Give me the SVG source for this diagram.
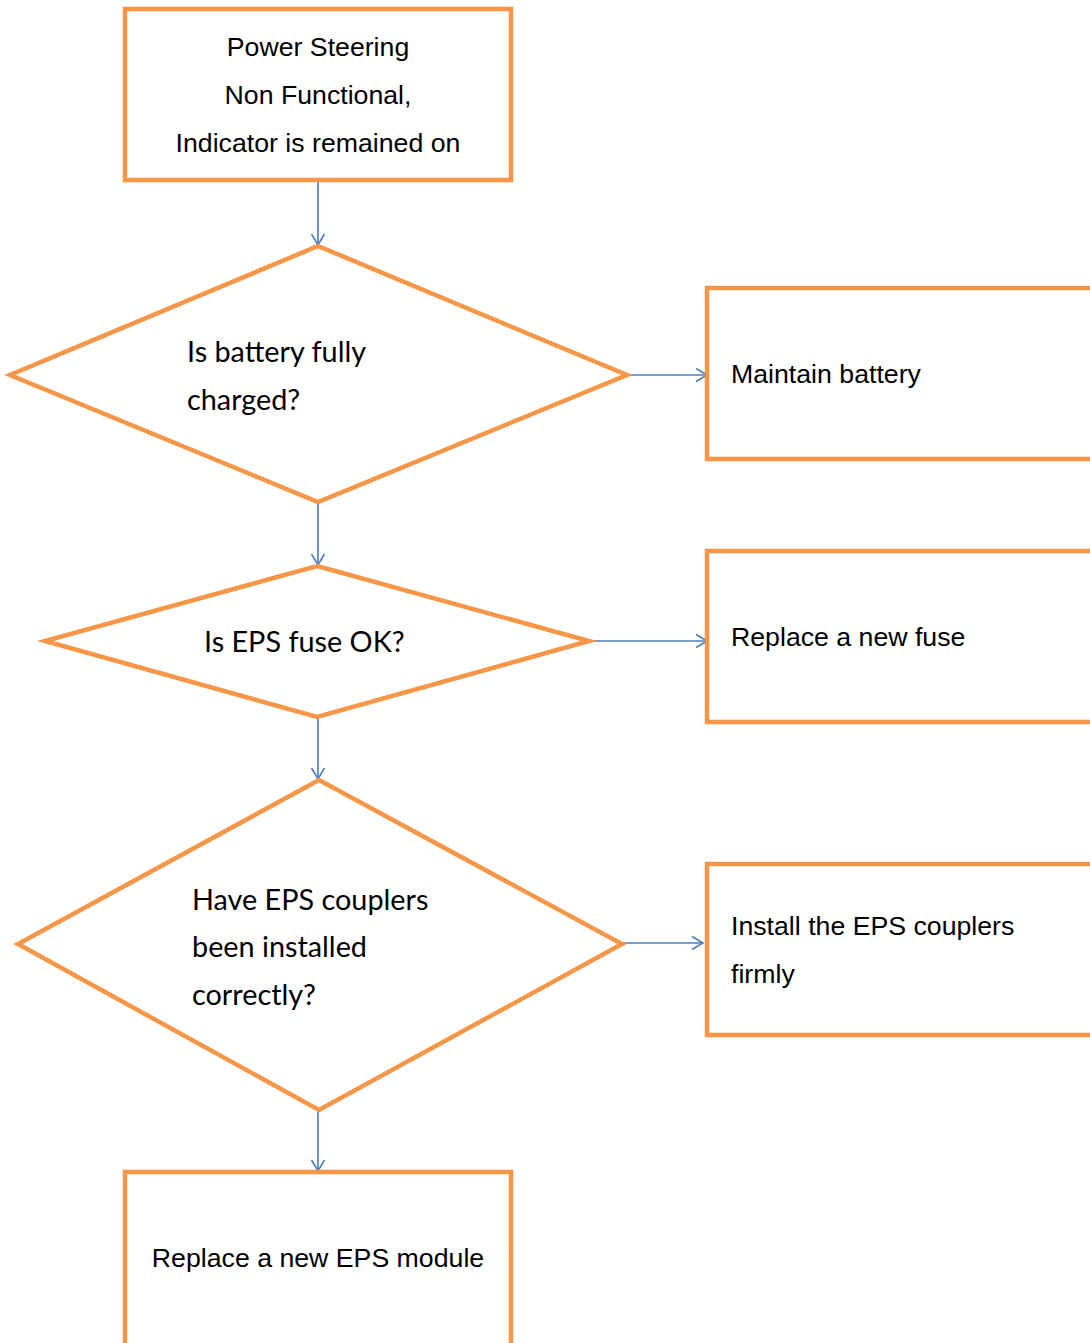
<svg xmlns="http://www.w3.org/2000/svg" width="1090" height="1343" viewBox="0 0 1090 1343">
<style>
.shape{fill:#FFFFFF;stroke:#F79646;stroke-width:4.5;stroke-linejoin:miter}
.conn{fill:none;stroke:#4A7EBB;stroke-width:1.6}
.ah{fill:none;stroke:#4A7EBB;stroke-width:1.6}
.t1{font-family:"Liberation Sans",Arial,sans-serif;font-size:26.7px;fill:#000}
.t2{font-family:Lato,"Open Sans",sans-serif;font-size:28.8px;fill:#000}
</style>
<defs>
<marker id="arr" markerWidth="16" markerHeight="16" refX="12" refY="8" orient="auto" markerUnits="userSpaceOnUse">
<path d="M1,1.5 L12,8 L1,14.5" class="ah"/>
</marker>
</defs>
<rect width="1090" height="1343" fill="#FFFFFF"/>
<g id="connectors">
<line class="conn" x1="318" y1="181" x2="318" y2="245" marker-end="url(#arr)"/>
<line class="conn" x1="318" y1="503" x2="318" y2="565" marker-end="url(#arr)"/>
<line class="conn" x1="318" y1="718" x2="318" y2="779" marker-end="url(#arr)"/>
<line class="conn" x1="318" y1="1111" x2="318" y2="1171" marker-end="url(#arr)"/>
<line class="conn" x1="628" y1="375" x2="707" y2="375" marker-end="url(#arr)"/>
<line class="conn" x1="590" y1="641" x2="707" y2="641" marker-end="url(#arr)"/>
<line class="conn" x1="623" y1="943" x2="703" y2="943" marker-end="url(#arr)"/>
</g>
<g id="start">
<rect class="shape" x="125" y="9" width="386" height="171"/>
<text class="t1" x="318" y="56" text-anchor="middle">Power Steering</text>
<text class="t1" x="318" y="104" text-anchor="middle">Non Functional,</text>
<text class="t1" x="318" y="152" text-anchor="middle">Indicator is remained on</text>
</g>
<g id="d1">
<polygon class="shape" points="318,246 627,375 318,502 10,375"/>
<text class="t2" x="187" y="362">Is battery fully</text>
<text class="t2" x="187" y="410">charged?</text>
</g>
<g id="b1">
<rect class="shape" x="707" y="288" width="400" height="171"/>
<text class="t1" x="731" y="383">Maintain battery</text>
</g>
<g id="d2">
<polygon class="shape" points="317,566 589,641 317,717 45,641"/>
<text class="t2" x="204" y="652">Is EPS fuse OK?</text>
</g>
<g id="b2">
<rect class="shape" x="707" y="551" width="400" height="171"/>
<text class="t1" x="731" y="646">Replace a new fuse</text>
</g>
<g id="d3">
<polygon class="shape" points="319,780 622,944 319,1110 18,944"/>
<text class="t2" x="192" y="910">Have EPS couplers</text>
<text class="t2" x="192" y="957">been installed</text>
<text class="t2" x="192" y="1005">correctly?</text>
</g>
<g id="b3">
<rect class="shape" x="707" y="864" width="400" height="171"/>
<text class="t1" x="731" y="935">Install the EPS couplers</text>
<text class="t1" x="731" y="983">firmly</text>
</g>
<g id="end">
<rect class="shape" x="125" y="1172" width="386" height="200"/>
<text class="t1" x="318" y="1267" text-anchor="middle">Replace a new EPS module</text>
</g>
</svg>
